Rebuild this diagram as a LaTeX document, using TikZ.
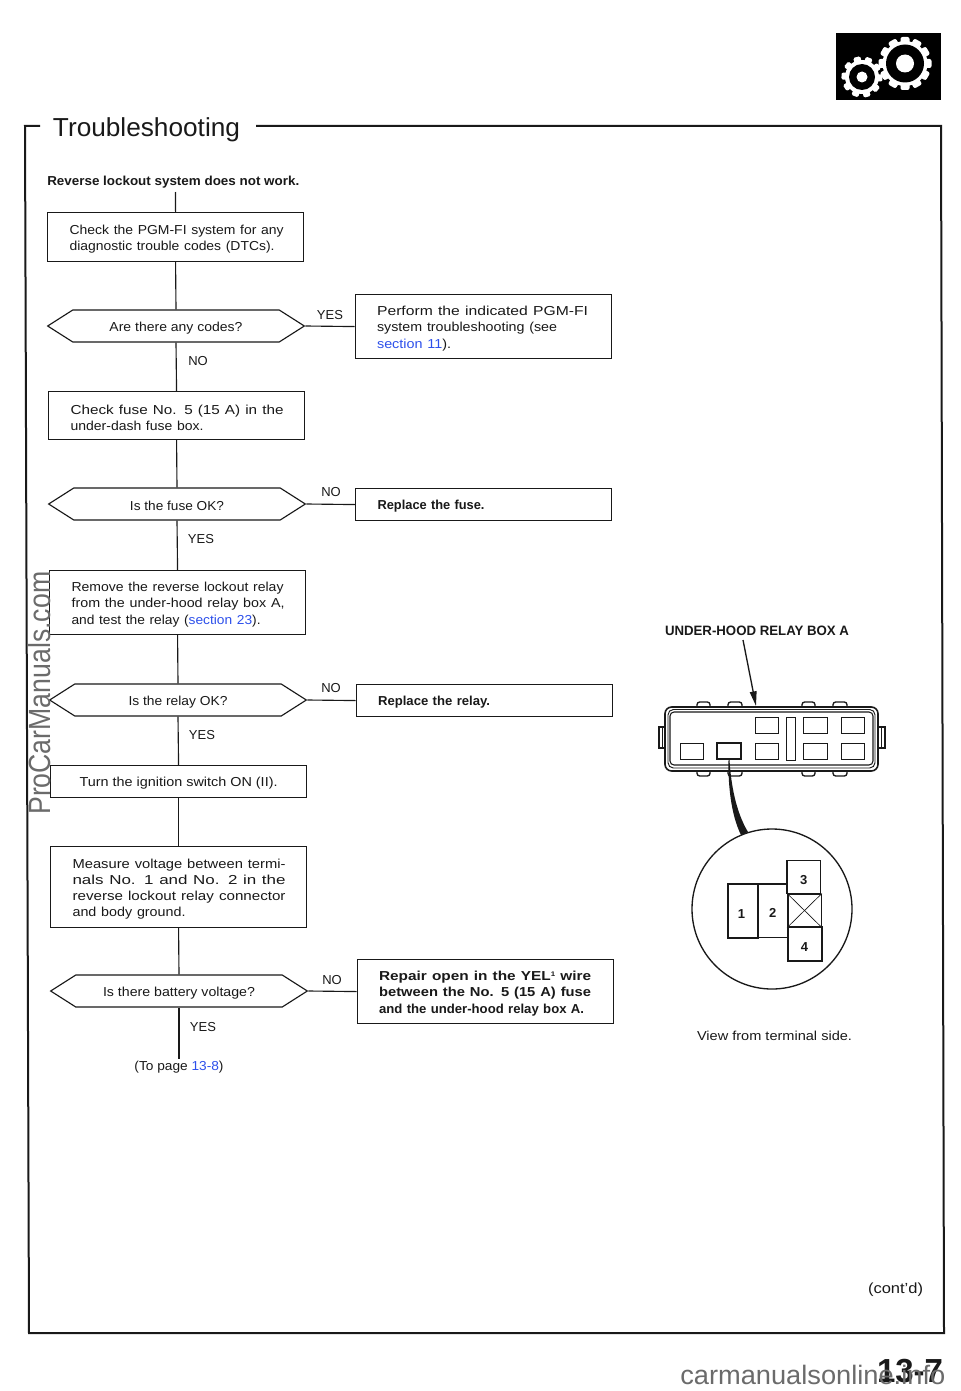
\documentclass[tikz,border=0pt]{standalone}
\usepackage{fontspec}
\usepackage{graphicx}
\setmainfont{Liberation Sans}
\usetikzlibrary{shapes.symbols,arrows.meta}
\definecolor{ink}{gray}{0.1}
\definecolor{linkblue}{RGB}{45,80,235}
\definecolor{wm}{gray}{0.42}
\newcommand{\fl}[2]{\raisebox{-1.5pt}[\height][\depth]{\resizebox{#1\dimexpr 0.75pt\relax}{\height}{#2}}}
\newcommand{\lk}[1]{\textcolor{linkblue}{#1}}
\newcommand{\tn}[2]{\raisebox{-2.2pt}[\height][\depth]{\makebox[0pt]{\kern#1pt\relax #2}}}
\newcommand{\supone}{{\fontsize{5}{5}\selectfont\raisebox{3.5pt}{1}}}
\tikzset{
  x=0.75pt,y=-0.75pt,
  every node/.style={text=ink,font=\fontsize{9.75}{12.15}\selectfont},
  rule/.style={draw=ink,line width=0.85pt},
  flowbox/.style={rule,rectangle,anchor=north west,text width=159pt,inner xsep=16.5pt,inner ysep=0pt,align=left,minimum height=#1*0.75pt},
  hexa/.style={rule,signal,signal to=west and east,signal pointer angle=65,minimum width=192.5pt,minimum height=24pt,inner sep=0pt,anchor=center},
  lab/.style={inner sep=0pt},
  boldtext/.style={font=\fontsize{9.75}{12.15}\selectfont\bfseries},
  term/.style={draw=ink,line width=1pt},
  numtext/.style={font=\fontsize{9.75}{12}\selectfont\bfseries},
  gearwhite/.style={fill=white,draw=none},
}
\begin{document}
\begin{tikzpicture}
\useasboundingbox (0,0) rectangle (960,1391);
\fill[white] (0,0) rectangle (960,1391);
% frame
\draw[draw=ink,line width=1.5pt] (40,126) -- (25,126) -- (29,1333) -- (944,1333) -- (941,126) -- (256,126);
\node[lab,font=\fontsize{19.5}{24}\selectfont] (title) at (146.5,128) {\fl{187}{Troubleshooting}};
% gear icon
\fill[black] (836,33) rectangle (941,100);
\begin{scope}[shift={(905,63.5)}]
  \foreach \a in {0,30,...,330}{\fill[gearwhite,rotate=\a,rounded corners=1.5] (-4.5,-26.5) rectangle (4.5,0);}
  \fill[gearwhite] (0,0) circle[radius=22.5];
  \fill[black] (0,0) circle[radius=19];
  \fill[gearwhite] (0,0) circle[radius=9];
\end{scope}
\begin{scope}[shift={(862,77)}]
  \foreach \a in {15,51,...,375}{\fill[gearwhite,rotate=\a,rounded corners=1] (-3.5,-20.5) rectangle (3.5,0);}
  \fill[gearwhite] (0,0) circle[radius=17];
  \fill[black] (0,0) circle[radius=13];
  \fill[gearwhite] (0,0) circle[radius=5.5];
\end{scope}
% heading
\node[lab,boldtext,anchor=west] (head) at (47,180) {\fl{252}{Reverse lockout system does not work.}};
\coordinate (start) at (175.5,192);
% flowchart
\node[flowbox=49] (b1) at (47,212) {\fl{214}{Check the PGM-FI system for any}\\\fl{205}{diagnostic trouble codes (DTCs).}};
\node[hexa] (d1) at (176,326) {\fl{133}{Are there any codes?}};
\node[flowbox=64] (b2) at (354.5,294) {\fl{211}{Perform the indicated PGM-FI}\\\fl{180}{system troubleshooting (see}\\\fl{74}{\lk{section 11}).}};
\node[lab] (yes1) at (330,315) {YES};
\node[lab] (no1) at (198,361) {NO};
\node[flowbox=48] (b3) at (48,391) {\fl{213}{Check fuse No. 5 (15 A) in the}\\\fl{133}{under-dash fuse box.}};
\node[hexa] (d2) at (177,504) {\fl{94}{Is the fuse OK?}};
\node[flowbox=32,boldtext] (b4) at (355,488) {\fl{107}{Replace the fuse.}};
\node[lab] (no2) at (331,492.5) {NO};
\node[lab] (yes2) at (201,539) {YES};
\node[flowbox=64] (b5) at (49,570) {\fl{212}{Remove the reverse lockout relay}\\\fl{213}{from the under-hood relay box A,}\\\fl{189}{and test the relay (\lk{section 23}).}};
\node[hexa] (d3) at (178,700) {\fl{99}{Is the relay OK?}};
\node[flowbox=32,boldtext] (b6) at (355.5,684) {\fl{112}{Replace the relay.}};
\node[lab] (no3) at (331,688.5) {NO};
\node[lab] (yes3) at (202,735) {YES};
\node[rule,rectangle,anchor=north west,minimum width=192pt,minimum height=24pt,inner sep=0pt] (b7) at (50,765) {\fl{198}{Turn the ignition switch ON (II).}};
\node[flowbox=81] (b8) at (50,846) {\fl{213}{Measure voltage between termi-}\\\fl{213}{nals No. 1 and No. 2 in the}\\\fl{213}{reverse lockout relay connector}\\\fl{113}{and body ground.}};
\node[hexa] (d4) at (179,991) {\fl{152}{Is there battery voltage?}};
\node[flowbox=64,boldtext] (b9) at (356.5,959) {\fl{212}{Repair open in the YEL\supone{} wire}\\\fl{212}{between the No. 5 (15 A) fuse}\\\fl{205}{and the under-hood relay box A.}};
\node[lab] (no4) at (332,980.5) {NO};
\node[lab] (yes4) at (203,1027) {YES};
\node[lab,anchor=north] (topage) at (179,1059) {\fl{89}{(To page \lk{13-8})}};
\draw[rule] (start) -- (b1.north);
\draw[rule] (b1.south) -- (d1.north);
\draw[rule] (d1.east) -- (b2.west);
\draw[rule] (d1.south) -- (b3.north);
\draw[rule] (b3.south) -- (d2.north);
\draw[rule] (d2.east) -- (b4.west);
\draw[rule] (d2.south) -- (b5.north);
\draw[rule] (b5.south) -- (d3.north);
\draw[rule] (d3.east) -- (b6.west);
\draw[rule] (d3.south) -- (b7.north);
\draw[rule] (b7.south) -- (b8.north);
\draw[rule] (b8.south) -- (d4.north);
\draw[rule] (d4.east) -- (b9.west);
\draw[rule] (d4.south) -- (topage.north);
% relay box
\node[lab,font=\fontsize{10.2}{12}\selectfont\bfseries] (boxlabel) at (757,629) {\fl{184}{UNDER-HOOD RELAY BOX A}};
\coordinate (boxarrowtip) at (756,706);
\coordinate (boxarrowtail) at (743,640);
\draw[rule,line width=1pt,-{Triangle[length=11pt,width=5pt]}] (boxarrowtail) -- (boxarrowtip);
\foreach \xa/\xb in {697/710,728/742,802/815,833/847}{
  \draw[term,rounded corners=2pt] (\xa,708) -- (\xa,702) -- (\xb,702) -- (\xb,708);
  \draw[term,rounded corners=2pt] (\xa,770) -- (\xa,776) -- (\xb,776) -- (\xb,770);
}
\draw[term] (666,727) -- (659,727) -- (659,748) -- (666,748);
\draw[term,line width=0.6pt] (662,727) -- (662,748);
\draw[term] (877,727) -- (885,727) -- (885,748) -- (877,748);
\draw[term,line width=0.6pt] (881,727) -- (881,748);
\draw[fill=white,draw=ink,line width=1.2pt,rounded corners=5pt] (665,707) rectangle (878,771);
\draw[term,line width=0.7pt,rounded corners=4pt] (668,709.5) rectangle (875,768);
\draw[term,line width=0.8pt,rounded corners=3pt] (670,712) rectangle (873,765);
\foreach \xa/\xb in {755/778,803/827,841/864}{\draw[draw=ink,line width=0.7pt] (\xa,717) rectangle (\xb,733);}
\foreach \xa/\xb in {680/703,755/778,803/827,841/864}{\draw[draw=ink,line width=0.7pt] (\xa,743) rectangle (\xb,759);}
\draw[draw=ink,line width=1.3pt] (717,743) rectangle (741,759);
\draw[draw=ink,line width=0.7pt] (786,717) rectangle (795,760);
% wedge
\fill[ink] (728.5,760) .. controls (728,785) and (731,815) .. (741,835) -- (748,832) .. controls (736,812) and (731,785) .. (729.5,760) -- cycle;
% detail circle
\node[term,circle,minimum size=120pt,inner sep=0pt] (detail) at (772,909) {};
\node[term,rectangle,minimum width=22.5pt,minimum height=40.5pt,inner sep=0pt,numtext] (t1) at (743,911) {\tn{-2.2}{1}};
\node[term,rectangle,minimum width=22pt,minimum height=40pt,inner sep=0pt,numtext] (t2) at (772.5,910.5) {\tn{0.4}{2}};
\node[term,rectangle,minimum width=25pt,minimum height=25pt,inner sep=0pt,numtext] (t3) at (803.5,877) {\tn{0.4}{3}};
\node[term,rectangle,minimum width=25.5pt,minimum height=25.5pt,inner sep=0pt,numtext] (t4) at (805,944) {\tn{-0.7}{4}};
\node[term,rectangle,minimum width=25pt,minimum height=24.5pt,inner sep=0pt] (tx) at (804.5,910.5) {};
\draw[draw=ink,line width=0.5pt] (tx.north west) -- (tx.south east) (tx.north east) -- (tx.south west);
\node[lab] (viewlabel) at (774.5,1033.5) {\fl{155}{View from terminal side.}};
\node[lab,font=\fontsize{11}{13}\selectfont] (contd) at (895.5,1287.5) {\fl{55}{(cont'd)}};
% page number and watermarks
\node[lab,font=\fontsize{25}{30}\selectfont\bfseries] (pageno) at (910,1369) {\fl{66}{13-7}};
\node[lab,text=wm,font=\fontsize{20}{24}\selectfont,anchor=base west] (wm1) at (680,1382) {\fl{265}{carmanualsonline.info}};
\node[lab,text=wm,font=\fontsize{23}{26}\selectfont,rotate=90,anchor=base west] (wm2) at (49,815) {\fl{243}{ProCarManuals.com}};
\end{tikzpicture}
\end{document}
